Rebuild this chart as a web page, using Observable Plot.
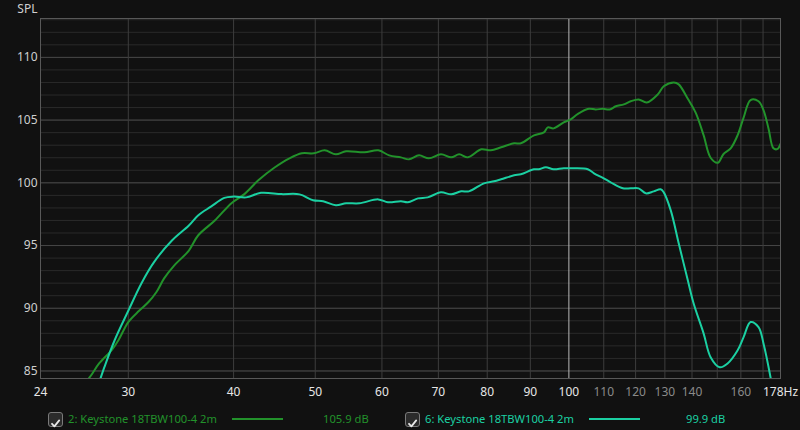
<!DOCTYPE html>
<html><head><meta charset="utf-8">
<script src="https://cdn.jsdelivr.net/npm/d3@7"></script>
<script src="https://cdn.jsdelivr.net/npm/@observablehq/plot@0.6"></script>
<style>
html,body{margin:0;padding:0;background:#111111;}
body{width:800px;height:430px;overflow:hidden;position:relative;font-family:"Noto Sans",sans-serif;}
#chart{position:absolute;left:0;top:0;}
.leg{position:absolute;top:410px;height:18px;font-size:11.2px;line-height:18px;white-space:nowrap;}
.box{position:absolute;top:412px;width:13px;height:13px;border:1px solid #7a7a7a;border-radius:3px;background:#2b2b2b;box-sizing:content-box;}
.sw{position:absolute;top:418px;height:2px;}
</style>
</head><body>
<div id="chart"></div>
<script>
// ---- data ----
const freqG = [26.4, 27.0, 27.7, 28.7, 29.2, 30.0, 30.9, 31.7, 32.4, 33.1, 34.0, 35.4, 36.3, 38.0, 39.8, 41.2, 42.8, 44.7, 46.6, 48.2, 49.8, 51.3, 52.9, 54.4, 57.2, 59.4, 61.2, 63.2, 64.6, 66.4, 68.2, 70.5, 72.5, 74.1, 75.9, 78.7, 80.8, 83.1, 86.1, 87.7, 90.9, 93.4, 94.4, 95.9, 98.6, 100.5, 102.5, 105.6, 107.6, 109.7, 111.8, 113.7, 116.2, 118.4, 121.0, 123.7, 127.5, 129.6, 133.2, 135.0, 138.4, 141.4, 144.5, 147.3, 150.2, 152.6, 155.6, 158.6, 161.2, 164.3, 167.9, 170.2, 172.6, 174.9, 176.9, 178.3];
const splG  = [83.8, 84.5, 85.6, 86.7, 87.45, 88.9, 89.8, 90.5, 91.3, 92.4, 93.4, 94.6, 95.8, 97.0, 98.4, 99.1, 100.2, 101.2, 101.95, 102.35, 102.35, 102.59, 102.27, 102.51, 102.43, 102.59, 102.19, 102.03, 101.87, 102.19, 101.95, 102.27, 102.03, 102.27, 102.03, 102.67, 102.59, 102.83, 103.15, 103.15, 103.78, 104.02, 104.42, 104.34, 104.82, 105.06, 105.5, 105.9, 105.85, 105.9, 105.85, 106.1, 106.25, 106.5, 106.65, 106.4, 107.05, 107.7, 108.0, 107.85, 106.7, 105.6, 103.8, 102.0, 101.6, 102.3, 102.75, 103.8, 105.2, 106.6, 106.5, 105.8, 104.3, 102.75, 102.7, 103.1];
const freqT = [27.5, 27.8, 28.1, 28.9, 30.0, 31.1, 32.2, 33.8, 35.4, 36.3, 37.6, 39.0, 40.0, 41.4, 43.1, 45.6, 47.9, 49.7, 51.1, 52.9, 54.4, 56.4, 59.4, 61.0, 63.2, 64.4, 66.2, 68.0, 70.5, 72.5, 74.5, 76.1, 79.3, 81.5, 83.1, 86.1, 87.7, 90.9, 92.1, 93.9, 95.9, 98.6, 101.4, 105.3, 107.1, 110.0, 112.1, 115.9, 118.4, 121.0, 123.4, 126.1, 128.5, 129.6, 132.1, 135.0, 138.4, 140.6, 144.5, 147.3, 151.0, 154.3, 158.6, 161.2, 164.3, 167.9, 170.2, 173.5, 175.0];
const splT  = [83.6, 84.4, 85.3, 87.45, 89.8, 92.0, 93.7, 95.4, 96.6, 97.4, 98.1, 98.8, 98.9, 98.84, 99.2, 99.1, 99.08, 98.61, 98.53, 98.21, 98.37, 98.37, 98.68, 98.45, 98.53, 98.45, 98.76, 98.84, 99.24, 99.08, 99.32, 99.32, 99.96, 100.12, 100.28, 100.6, 100.68, 101.08, 101.08, 101.24, 101.08, 101.16, 101.16, 101.08, 100.76, 100.36, 100.04, 99.56, 99.56, 99.56, 99.16, 99.32, 99.48, 99.24, 97.8, 95.18, 92.23, 90.4, 88.0, 86.1, 85.3, 85.6, 86.65, 87.7, 88.9, 88.5, 87.2, 84.5, 83.0];

const seriesNames = ["2: Keystone 18TBW100-4 2m", "6: Keystone 18TBW100-4 2m"];
const seriesLevels = ["105.9 dB", "99.9 dB"];
const seriesColors = ["#22922b", "#1bd0a2"];

const xDomain = [23.6, 178.3];
const yDomain = [84.4, 113.1];
const yTicks = [85, 90, 95, 100, 105, 110];
const xTicksBright = [23.6, 30, 40, 50, 60, 70, 80, 90, 100, 178.3];
const xLabelsBright = ["24", "30", "40", "50", "60", "70", "80", "90", "100", "178Hz"];
const xTicksDim = [110, 120, 130, 140, 160];
const xLabelsDim = ["110", "120", "130", "140", "160"];
const xGrid = [30, 40, 50, 60, 70, 80, 90, 110, 120, 130, 140, 150, 160, 170];
const xRef = [100];

// ---- build ----
const dataG = freqG.map((f, i) => ({f, spl: splG[i]}));
const dataT = freqT.map((f, i) => ({f, spl: splT[i]}));
const brightLabel = new Map(xTicksBright.map((t, i) => [t, xLabelsBright[i]]));
const dimLabel = new Map(xTicksDim.map((t, i) => [t, xLabelsDim[i]]));
const minorY = d3.range(Math.ceil(yDomain[0]), Math.floor(yDomain[1]) + 1);

const chart = Plot.plot({
  width: 800, height: 400,
  marginTop: 18, marginBottom: 22, marginLeft: 40, marginRight: 20,
  style: {background: "transparent", color: "#cccccc", fontFamily: "'Noto Sans', sans-serif", fontSize: "12px"},
  x: {type: "log", domain: xDomain, label: null},
  y: {domain: yDomain, label: null},
  marks: [
    Plot.ruleY(minorY, {stroke: "#2a2a2a", strokeWidth: 1}),
    Plot.ruleY(yTicks, {stroke: "#464646", strokeWidth: 1}),
    Plot.ruleX(xGrid, {stroke: "#3d3d3d", strokeWidth: 1}),
    Plot.ruleX(xRef, {stroke: "#b8b8b8", strokeWidth: 1}),
    Plot.frame({stroke: "#585858"}),
    Plot.line(dataG, {x: "f", y: "spl", stroke: seriesColors[0], strokeWidth: 2, curve: "catmull-rom", clip: true}),
    Plot.line(dataT, {x: "f", y: "spl", stroke: seriesColors[1], strokeWidth: 2, curve: "catmull-rom", clip: true}),
    Plot.axisY(yTicks, {tickSize: 0, tickPadding: 3, fill: "#cfcfcf", fontSize: 12}),
    Plot.axisX(xTicksBright, {tickSize: 0, tickPadding: 9, tickFormat: d => brightLabel.get(d), fill: "#e6e6e6", fontSize: 12}),
    Plot.axisX(xTicksDim, {tickSize: 0, tickPadding: 9, tickFormat: d => dimLabel.get(d), fill: "#8a8a8a", fontSize: 12}),
    Plot.text(["SPL"], {frameAnchor: "top-left", dx: -3, dy: -9.5, textAnchor: "end", lineAnchor: "middle", fill: "#cfcfcf", fontSize: 12})
  ]
});
document.getElementById("chart").appendChild(chart);

// ---- legend ----
const legPos = [
  {box: 48, text: 68, sw: 232, swW: 51, lvl: 323},
  {box: 405, text: 425, sw: 589, swW: 51, lvl: 686}
];
seriesNames.forEach((name, i) => {
  const p = legPos[i];
  const box = document.createElement("div");
  box.className = "box"; box.style.left = p.box + "px";
  box.innerHTML = '<svg width="13" height="13" viewBox="0 0 13 13"><path d="M3 6.8 L5.4 9.4 L10.2 3.4" fill="none" stroke="#e8e8e8" stroke-width="1.8" stroke-linecap="round" stroke-linejoin="round"/></svg>';
  document.body.appendChild(box);
  const t = document.createElement("div");
  t.className = "leg"; t.style.left = p.text + "px"; t.style.color = seriesColors[i]; t.textContent = name;
  document.body.appendChild(t);
  const sw = document.createElement("div");
  sw.className = "sw"; sw.style.left = p.sw + "px"; sw.style.width = p.swW + "px"; sw.style.background = seriesColors[i];
  document.body.appendChild(sw);
  const l = document.createElement("div");
  l.className = "leg"; l.style.left = p.lvl + "px"; l.style.color = seriesColors[i]; l.textContent = seriesLevels[i];
  document.body.appendChild(l);
});
</script>
</body></html>
